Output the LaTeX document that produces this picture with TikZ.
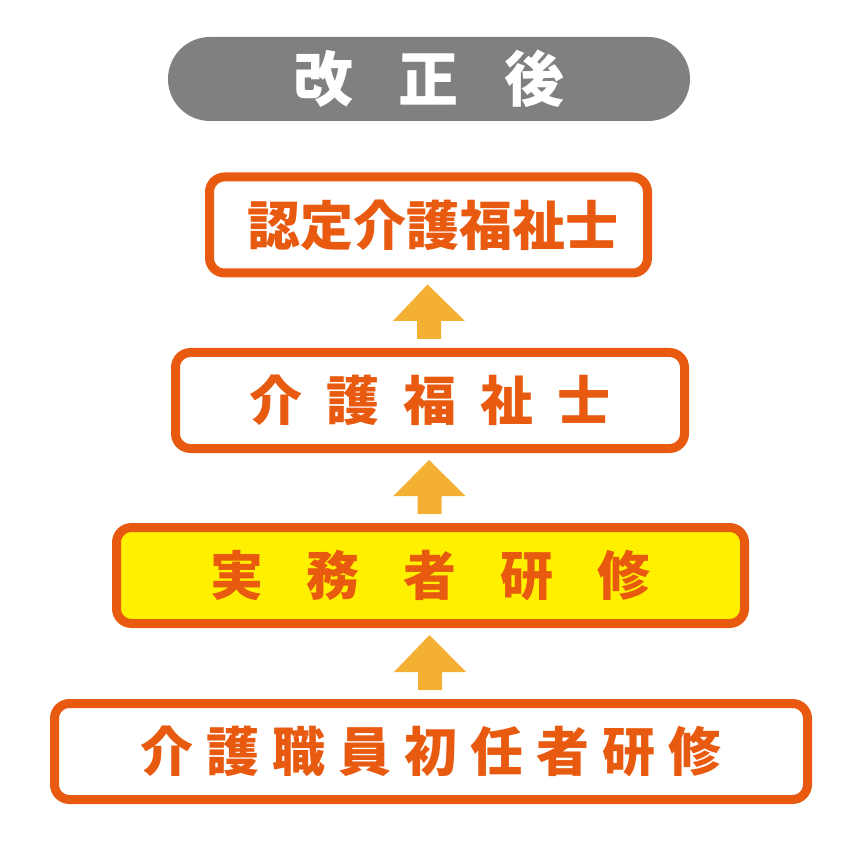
\documentclass[tikz,border=0pt]{standalone}
\usepackage{fontspec}
\setmainfont{Noto Sans CJK JP}
\usetikzlibrary{calc}
\definecolor{orangeline}{HTML}{E85A0F}
\definecolor{arrowc}{HTML}{F3B032}
\definecolor{pillgray}{HTML}{808080}
\definecolor{boxyellow}{HTML}{FFF000}
\tikzset{
  levelbox/.style={draw=orangeline, line width=9pt, rounded corners=15pt, fill=white,
    minimum height=96pt, inner sep=0pt, text=orangeline, font=\bfseries\fontsize{53}{53}\selectfont},
  pill/.style={fill=pillgray, rounded corners=42pt, minimum height=84pt, minimum width=522pt,
    inner sep=0pt, text=white, font=\bfseries\fontsize{60}{60}\selectfont},
  uparrow/.style={fill=arrowc, draw=none}
}
\newcommand{\gp}[1]{\hspace{#1pt}}
\begin{document}
\begin{tikzpicture}[x=1pt, y=-1pt]
\useasboundingbox (0,0) rectangle (860,850);
\node[pill] (head) at (429,79) {改\gp{46}正\gp{46}後};
\node[levelbox, minimum width=438pt] (b1) at (428.5,225) {\gp{9}認定介護福祉士};
\node[levelbox, minimum width=509pt] (b2) at (430,400.5) {介\gp{24}護\gp{24}福\gp{24}祉\gp{24}士};
\node[levelbox, minimum width=628pt, fill=boxyellow] (b3) at (430.5,575.5) {実\gp{44}務\gp{44}者\gp{44}研\gp{44}修};
\node[levelbox, minimum width=753pt] (b4) at (431,751.5) {介\gp{13}護\gp{13}職\gp{13}員\gp{13}初\gp{13}任\gp{13}者\gp{13}研\gp{13}修};
\foreach \lo/\hi in {b2/b1, b3/b2, b4/b3}{
  \fill[uparrow] ($(\lo.north)+(-1,-9)$) -- ++(-12,0) -- ++(0,-18) -- ++(-24,0)
    -- ($(\hi.south)+(-1,7)$) -- ($(\lo.north)+(35,-27)$) -- ++(-24,0) -- ++(0,18) -- cycle;
}
\end{tikzpicture}
\end{document}
